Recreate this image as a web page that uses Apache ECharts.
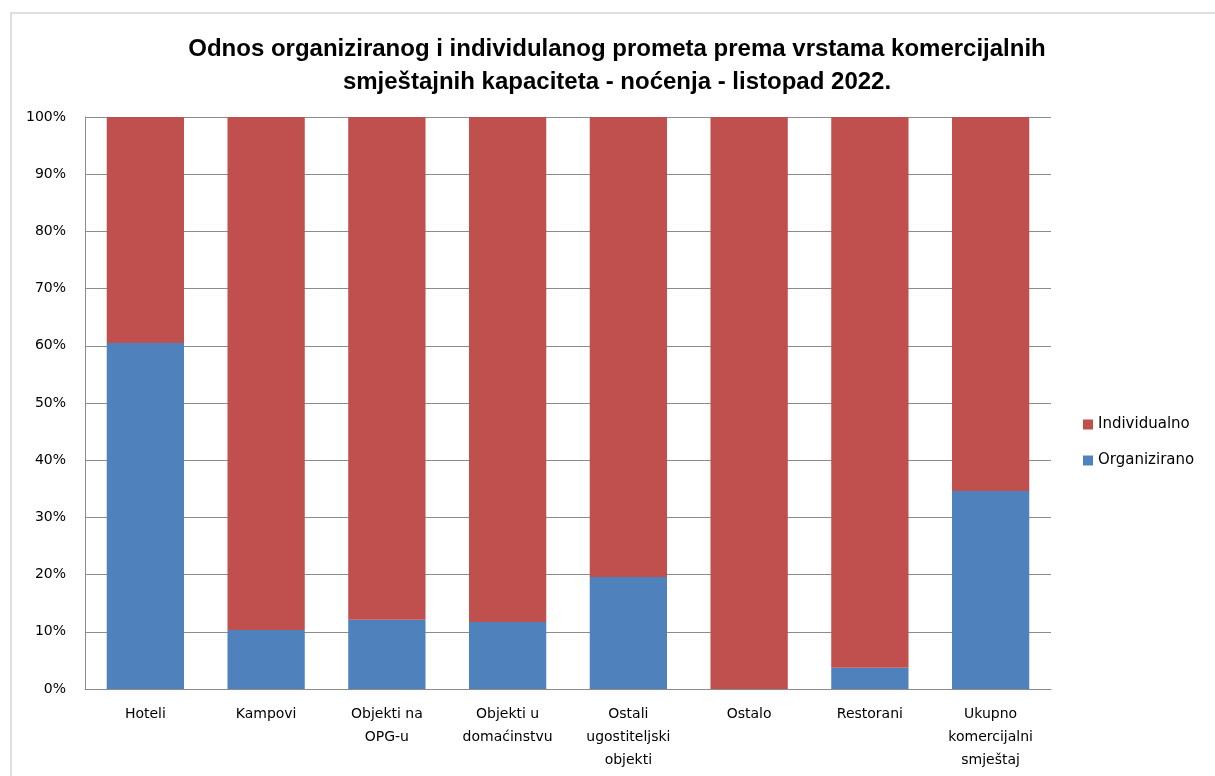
<!DOCTYPE html>
<html>
<head>
<meta charset="utf-8">
<script src="https://cdn.jsdelivr.net/npm/echarts@6/dist/echarts.min.js"></script>
<style>
  html, body { margin: 0; padding: 0; background: #fff; }
  #frame { position: absolute; left: 10px; top: 12px; width: 1215px; height: 776px;
           border-left: 2px solid #dedede; border-top: 2px solid #dedede; }
  #main { position: absolute; left: 0; top: 0; width: 1215px; height: 776px; }
</style>
</head>
<body>
<div id="frame"></div>
<div id="main"></div>
<script>
var categories = ['Hoteli', 'Kampovi', 'Objekti na\nOPG-u', 'Objekti u\ndomaćinstvu',
  'Ostali\nugostiteljski\nobjekti', 'Ostalo', 'Restorani', 'Ukupno\nkomercijalni\nsmještaj']
var organizirano = [60.5, 10.3, 12.1, 11.7, 19.6, 0, 3.7, 34.6]
var individualno = [39.5, 89.7, 87.9, 88.3, 80.4, 100, 96.3, 65.4]
var titleText = 'Odnos organiziranog i individulanog prometa prema vrstama komercijalnih\nsmještajnih kapaciteta - noćenja - listopad 2022.'

function main() {
  var myChart = echarts.init(document.getElementById('main'))
  var option = {
    animation: false,
    title: {
      text: titleText,
      left: 612,
      textAlign: 'center',
      top: 28,
      textStyle: {
        fontFamily: 'Liberation Sans Narrow, Liberation Sans, sans-serif',
        fontSize: 24,
        fontWeight: 'bold',
        color: '#000',
        lineHeight: 33
      }
    },
    legend: {
      orient: 'vertical',
      left: 1078,
      top: 412,
      itemWidth: 10,
      itemHeight: 10,
      itemGap: 21,
      icon: 'rect',
      data: ['Individualno', 'Organizirano'],
      textStyle: { fontFamily: 'DejaVu Sans', fontSize: 15, color: '#000' }
    },
    grid: { left: 85, right: 164, top: 117, bottom: 87 },
    xAxis: {
      type: 'category',
      data: categories,
      axisLine: { lineStyle: { color: '#8c8c8c', width: 1 } },
      axisTick: { show: false },
      axisLabel: {
        interval: 0,
        margin: 14,
        fontFamily: 'DejaVu Sans',
        fontSize: 14,
        color: '#000',
        lineHeight: 23
      }
    },
    yAxis: {
      type: 'value',
      min: 0,
      max: 100,
      interval: 10,
      axisLine: { show: true, lineStyle: { color: '#8c8c8c' } },
      axisTick: { show: false },
      splitLine: { lineStyle: { color: '#8c8c8c' } },
      axisLabel: {
        formatter: '{value}%',
        margin: 19,
        fontFamily: 'DejaVu Sans',
        fontSize: 14,
        color: '#000'
      }
    },
    series: [
      {
        name: 'Organizirano',
        type: 'bar',
        stack: 'a',
        barCategoryGap: '36%',
        itemStyle: { color: '#4F81BD' },
        data: organizirano
      },
      {
        name: 'Individualno',
        type: 'bar',
        stack: 'a',
        barCategoryGap: '36%',
        itemStyle: { color: '#C0504D' },
        data: individualno
      }
    ]
  }
  myChart.setOption(option)
}

window.onload = main
</script>
</body>
</html>
